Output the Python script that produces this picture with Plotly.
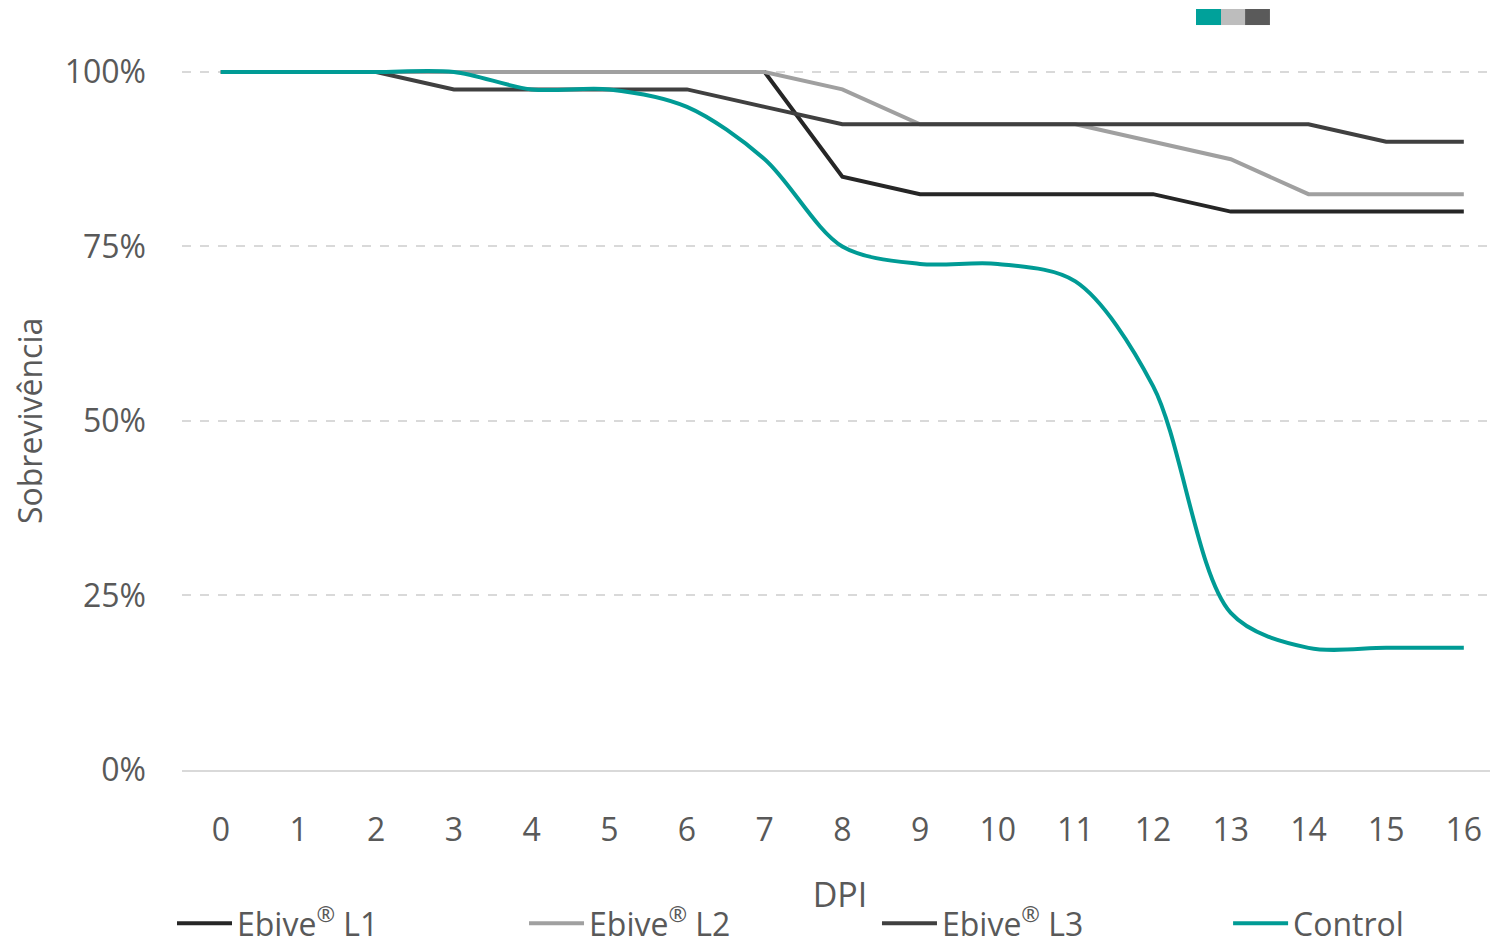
import plotly.graph_objects as go

# Sobrevivência (%) por dia pós-infecção
dpi = list(range(17))
ebive_l1 = [100, 100, 100, 100, 100, 100, 100, 100, 85, 82.5, 82.5, 82.5, 82.5, 80, 80, 80, 80]
ebive_l2 = [100, 100, 100, 100, 100, 100, 100, 100, 97.5, 92.5, 92.5, 92.5, 90, 87.5, 82.5, 82.5, 82.5]
ebive_l3 = [100, 100, 100, 97.5, 97.5, 97.5, 97.5, 95, 92.5, 92.5, 92.5, 92.5, 92.5, 92.5, 92.5, 90, 90]
control = [100, 100, 100, 100, 97.5, 97.5, 95, 87.5, 75, 72.5, 72.5, 70, 55, 22.5, 17.5, 17.5, 17.5]

fig = go.Figure()

fig.add_trace(go.Scatter(x=dpi, y=ebive_l1, mode="lines", name="Ebive<sup>®</sup> L1",
                         line=dict(color="#262626", width=4), legend="legend"))
fig.add_trace(go.Scatter(x=dpi, y=ebive_l2, mode="lines", name="Ebive<sup>®</sup> L2",
                         line=dict(color="#A0A0A0", width=4), legend="legend2"))
fig.add_trace(go.Scatter(x=dpi, y=ebive_l3, mode="lines", name="Ebive<sup>®</sup> L3",
                         line=dict(color="#404040", width=4), legend="legend3"))
fig.add_trace(go.Scatter(x=dpi, y=control, mode="lines", name="Control",
                         line=dict(color="#009B95", width=4, shape="spline", smoothing=0.9),
                         legend="legend4"))

# quadradinhos decorativos no topo
for x0, x1, cor in [(0.7705, 0.7895, "#00A19A"), (0.7895, 0.8078, "#BDBDBD"), (0.8078, 0.8267, "#5A5A5A")]:
    fig.add_shape(type="rect", xref="paper", yref="paper", x0=x0, x1=x1, y0=1.0205, y1=1.0425,
                  fillcolor=cor, line=dict(width=0))

# título do eixo y
fig.add_annotation(text="Sobrevivência", textangle=-90, xref="paper", yref="paper",
                   x=-0.1163, y=0.478, xanchor="center", yanchor="middle",
                   showarrow=False, font=dict(size=32, color="#595959"))

leg = dict(orientation="h", y=-0.248, xanchor="left", yanchor="bottom", itemwidth=55,
           font=dict(size=32, color="#595959"), bgcolor="rgba(0,0,0,0)")

# a página tem 8px de margem no body
fig.update_layout(
    width=1490, height=936,
    margin=dict(l=174, r=0, t=32, b=174, autoexpand=False),
    plot_bgcolor="white", paper_bgcolor="white",
    font=dict(family="Open Sans", size=32, color="#595959"),
    xaxis=dict(
        title=dict(text="DPI", standoff=34, font=dict(size=34)),
        tickmode="array", tickvals=dpi, ticktext=[str(d) for d in dpi],
        range=[-0.5, 16.44], showgrid=False, zeroline=False,
        showline=True, linecolor="#D9D9D9", linewidth=2,
        ticks="", ticklabelstandoff=31, automargin=False,
    ),
    yaxis=dict(
        range=[0, 104.58], tickvals=[0, 25, 50, 75, 100],
        ticktext=["0%", "25%", "50%", "75%", "100%"],
        showgrid=True, gridcolor="#D9D9D9", griddash="dash", gridwidth=2,
        zeroline=False, showline=False, ticks="", ticklabelstandoff=35,
        automargin=False,
    ),
    legend=dict(leg, x=-0.0076),
    legend2=dict(leg, x=0.2599),
    legend3=dict(leg, x=0.5281),
    legend4=dict(leg, x=0.7949),
    showlegend=True,
)

fig.write_html("out.html")
